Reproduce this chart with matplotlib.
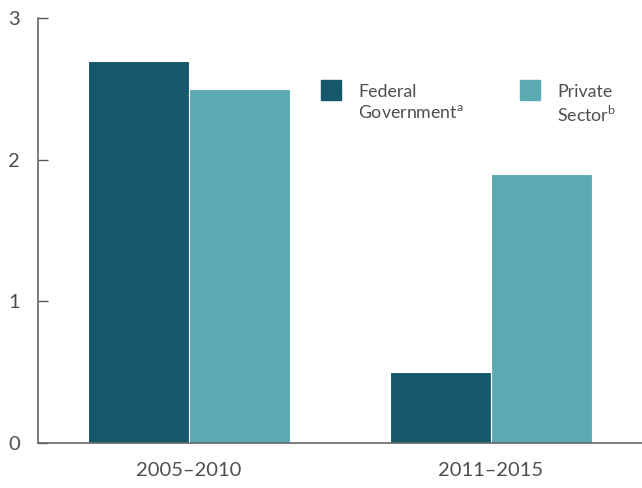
import matplotlib.pyplot as plt
import numpy as np
from matplotlib.patches import Rectangle

plt.rcParams['font.family'] = ['Lato', 'DejaVu Sans']
plt.rcParams['mathtext.fontset'] = 'custom'
plt.rcParams['mathtext.rm'] = 'Lato'

# Dados
periodos = ["2005\u20132010", "2011\u20132015"]
federal = [2.7, 0.5]
privado = [2.5, 1.9]
rotulos = ["Federal\nGovernment$^{\\mathrm{a}}$", "Private\nSector$^{\\mathrm{b}}$"]

cor_escura = '#15576b'
cor_clara = '#5ba9b3'
cor_texto = '#4f4f4f'

fig = plt.figure(figsize=(6.42, 4.88), dpi=100)
ax = fig.add_axes([38 / 642, 45 / 488, 604 / 642, 425 / 488])

index = np.arange(len(periodos))
w = 0.334
ax.bar(index - w / 2, federal, w, color=cor_escura, edgecolor='white', linewidth=0.8)
ax.bar(index + w / 2, privado, w, color=cor_clara, edgecolor='white', linewidth=0.8)

ax.set_xlim(-0.5, 1.5)
ax.set_ylim(0, 3)
ax.set_yticks([0, 1, 2, 3])
ax.set_xticks(index)
ax.set_xticklabels(periodos)
ax.tick_params(axis='x', length=0, pad=14, labelsize=14.5, colors=cor_texto)
ax.tick_params(axis='y', direction='in', length=7, width=1, color='#555555',
               pad=13, labelsize=14.5, labelcolor=cor_texto)
for s in ['top', 'right']:
    ax.spines[s].set_visible(False)
for s in ['left', 'bottom']:
    ax.spines[s].set_color('#666666')
    ax.spines[s].set_linewidth(1.2)

# Legenda manual
for i, (cor, rot) in enumerate(zip([cor_escura, cor_clara], rotulos)):
    x0 = (321 + i * 199) / 642
    fig.patches.append(Rectangle((x0, 1 - 100 / 488), 20 / 642, 20 / 488,
                                 transform=fig.transFigure, color=cor))
    fig.text(x0 + 37 / 642, 1 - 84 / 488, rot, ha='left', va='top',
             fontsize=12.8, color=cor_texto, linespacing=1.3)

fig.savefig('out.png', dpi=100)
